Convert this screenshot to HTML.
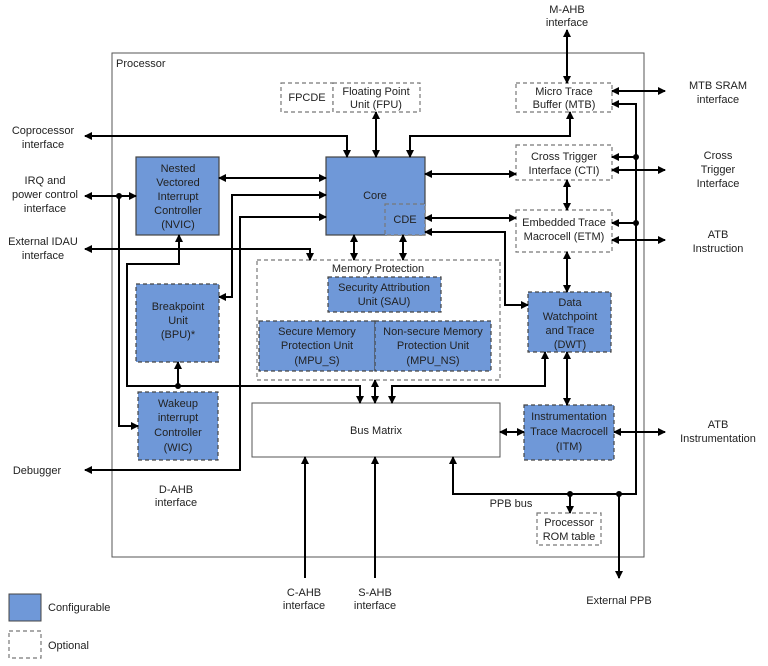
<!DOCTYPE html>
<html><head><meta charset="utf-8"><style>
html,body{margin:0;padding:0;background:#fff}
svg{display:block;font-family:"Liberation Sans",Arial,sans-serif;font-size:11px;fill:#222}
.b{fill:#6f98d8;stroke:#444;stroke-width:1.2}
.bd{fill:#6f98d8;stroke:#444;stroke-width:1.2;stroke-dasharray:4,3}
.d{fill:#fff;stroke:#777;stroke-width:1.2;stroke-dasharray:4,3}
.l{fill:none;stroke:#000;stroke-width:2}
text{text-anchor:middle}
</style></head><body>
<svg width="768" height="666" viewBox="0 0 768 666" xmlns="http://www.w3.org/2000/svg">
<defs>
<marker id="a" markerWidth="8" markerHeight="8" refX="7" refY="4" orient="auto-start-reverse" markerUnits="userSpaceOnUse"><path d="M0,0 L8,4 L0,8 z" fill="#000"/></marker>
</defs>
<rect x="112" y="53" width="532" height="504" fill="none" stroke="#555" stroke-width="1"/>
<text x="116" y="67" style="text-anchor:start">Processor</text>

<!-- boxes -->
<rect class="d" x="281" y="83" width="52" height="29"/><text x="307" y="101">FPCDE</text>
<rect class="d" x="333" y="83" width="87" height="29"/><text x="376" y="95">Floating Point</text><text x="376" y="108">Unit (FPU)</text>
<rect class="b" x="136" y="157" width="83" height="78"/>
<text x="178" y="172">Nested</text><text x="178" y="186">Vectored</text><text x="178" y="200">Interrupt</text><text x="178" y="214">Controller</text><text x="178" y="228">(NVIC)</text>
<rect class="b" x="326" y="157" width="99" height="78"/><text x="375" y="199">Core</text>
<rect class="d" x="385" y="204" width="40" height="31" style="fill:#6f98d8"/><text x="405" y="223">CDE</text>
<rect class="d" x="257" y="260" width="243" height="120"/><text x="378" y="272">Memory Protection</text>
<rect class="bd" x="328" y="277" width="113" height="35"/><text x="384" y="291">Security Attribution</text><text x="384" y="305">Unit (SAU)</text>
<rect class="bd" x="259" y="321" width="116" height="50"/><text x="317" y="335">Secure Memory</text><text x="317" y="349">Protection Unit</text><text x="317" y="364">(MPU_S)</text>
<rect class="bd" x="375" y="321" width="116" height="50"/><text x="433" y="335">Non-secure Memory</text><text x="433" y="349">Protection Unit</text><text x="433" y="364">(MPU_NS)</text>
<rect class="bd" x="136" y="284" width="83" height="78"/><text x="178" y="310">Breakpoint</text><text x="178" y="324">Unit</text><text x="178" y="338">(BPU)*</text>
<rect class="bd" x="138" y="392" width="80" height="68"/><text x="178" y="407">Wakeup</text><text x="178" y="421">interrupt</text><text x="178" y="436">Controller</text><text x="178" y="451">(WIC)</text>
<rect x="252" y="403" width="248" height="54" fill="#fff" stroke="#555" stroke-width="1"/><text x="376" y="434">Bus Matrix</text>
<rect class="d" x="516" y="83" width="96" height="29"/><text x="564" y="95">Micro Trace</text><text x="564" y="108">Buffer (MTB)</text>
<rect class="d" x="516" y="145" width="96" height="35"/><text x="564" y="160">Cross Trigger</text><text x="564" y="174">Interface (CTI)</text>
<rect class="d" x="516" y="210" width="96" height="42"/><text x="564" y="226">Embedded Trace</text><text x="564" y="240">Macrocell (ETM)</text>
<rect class="bd" x="528" y="292" width="83" height="60"/><text x="570" y="306">Data</text><text x="570" y="320">Watchpoint</text><text x="570" y="334">and Trace</text><text x="570" y="348">(DWT)</text>
<rect class="bd" x="524" y="405" width="90" height="55"/><text x="569" y="420">Instrumentation</text><text x="569" y="435">Trace Macrocell</text><text x="569" y="450">(ITM)</text>
<rect class="d" x="537" y="513" width="64" height="32"/><text x="569" y="526">Processor</text><text x="569" y="540">ROM table</text>

<!-- connectors -->
<g class="l">
<line x1="567" y1="30" x2="567" y2="83" marker-start="url(#a)" marker-end="url(#a)"/>
<line x1="612" y1="91" x2="665" y2="91" marker-start="url(#a)" marker-end="url(#a)"/>
<polyline points="612,104 636,104 636,494 453,494 453,457" marker-start="url(#a)" marker-end="url(#a)"/>
<line x1="636" y1="157" x2="612" y2="157" marker-end="url(#a)"/>
<line x1="636" y1="223" x2="612" y2="223" marker-end="url(#a)"/>
<line x1="612" y1="170" x2="665" y2="170" marker-start="url(#a)" marker-end="url(#a)"/>
<line x1="612" y1="240" x2="665" y2="240" marker-start="url(#a)" marker-end="url(#a)"/>
<line x1="614" y1="432" x2="665" y2="432" marker-start="url(#a)" marker-end="url(#a)"/>
<line x1="570" y1="494" x2="570" y2="513" marker-end="url(#a)"/>
<line x1="619" y1="494" x2="619" y2="578" marker-end="url(#a)"/>
<line x1="425" y1="174" x2="516" y2="174" marker-start="url(#a)" marker-end="url(#a)"/>
<line x1="425" y1="218" x2="516" y2="218" marker-start="url(#a)" marker-end="url(#a)"/>
<polyline points="425,232 505,232 505,305 528,305" marker-start="url(#a)" marker-end="url(#a)"/>
<line x1="567" y1="180" x2="567" y2="210" marker-start="url(#a)" marker-end="url(#a)"/>
<line x1="567" y1="252" x2="567" y2="292" marker-start="url(#a)" marker-end="url(#a)"/>
<line x1="567" y1="352" x2="567" y2="405" marker-start="url(#a)" marker-end="url(#a)"/>
<line x1="500" y1="432" x2="524" y2="432" marker-start="url(#a)" marker-end="url(#a)"/>
<polyline points="570,112 570,136 410,136 410,157" marker-start="url(#a)" marker-end="url(#a)"/>
<line x1="376" y1="112" x2="376" y2="157" marker-start="url(#a)" marker-end="url(#a)"/>
<polyline points="85,136 347,136 347,157" marker-start="url(#a)" marker-end="url(#a)"/>
<polyline points="85,196 136,196" marker-start="url(#a)" marker-end="url(#a)"/>
<polyline points="119,196 119,426 138,426" marker-end="url(#a)"/>
<line x1="219" y1="178" x2="326" y2="178" marker-start="url(#a)" marker-end="url(#a)"/>
<polyline points="219,297 232,297 232,195 326,195" marker-start="url(#a)" marker-end="url(#a)"/>
<polyline points="85,470 240,470 240,217 326,217" marker-start="url(#a)" marker-end="url(#a)"/>
<polyline points="85,249 310,249 310,260" marker-start="url(#a)" marker-end="url(#a)"/>
<polyline points="179,235 179,264 127,264 127,386 360,386 360,403" marker-start="url(#a)" marker-end="url(#a)"/>
<line x1="178" y1="386" x2="178" y2="362" marker-end="url(#a)"/>
<line x1="354" y1="235" x2="354" y2="260" marker-start="url(#a)" marker-end="url(#a)"/>
<line x1="403" y1="235" x2="403" y2="260" marker-start="url(#a)" marker-end="url(#a)"/>
<line x1="375" y1="380" x2="375" y2="403" marker-start="url(#a)" marker-end="url(#a)"/>
<polyline points="545,352 545,386 392,386 392,403" marker-start="url(#a)" marker-end="url(#a)"/>
<line x1="305" y1="578" x2="305" y2="457" marker-end="url(#a)"/>
<line x1="375" y1="578" x2="375" y2="457" marker-end="url(#a)"/>
</g>
<g fill="#000">
<circle cx="636" cy="157" r="3"/><circle cx="636" cy="223" r="3"/><circle cx="119" cy="196" r="3"/>
<circle cx="178" cy="386" r="3"/><circle cx="570" cy="494" r="3"/><circle cx="619" cy="494" r="3"/>
</g>

<!-- external labels -->
<text x="567" y="13">M-AHB</text><text x="567" y="26">interface</text>
<text x="718" y="89">MTB SRAM</text><text x="718" y="103">interface</text>
<text x="718" y="159">Cross</text><text x="718" y="173">Trigger</text><text x="718" y="187">Interface</text>
<text x="718" y="238">ATB</text><text x="718" y="252">Instruction</text>
<text x="718" y="428">ATB</text><text x="718" y="442">Instrumentation</text>
<text x="43" y="134">Coprocessor</text><text x="43" y="148">interface</text>
<text x="45" y="184">IRQ and</text><text x="45" y="198">power control</text><text x="45" y="212">interface</text>
<text x="43" y="245">External IDAU</text><text x="43" y="259">interface</text>
<text x="37" y="474">Debugger</text>
<text x="176" y="493">D-AHB</text><text x="176" y="506">interface</text>
<text x="511" y="507">PPB bus</text>
<text x="304" y="596">C-AHB</text><text x="304" y="609">interface</text>
<text x="375" y="596">S-AHB</text><text x="375" y="609">interface</text>
<text x="619" y="604">External PPB</text>

<!-- legend -->
<rect x="9" y="594" width="32" height="27" fill="#6f98d8" stroke="#444"/>
<text x="48" y="611" style="text-anchor:start">Configurable</text>
<rect class="d" x="9" y="631" width="32" height="27"/>
<text x="48" y="649" style="text-anchor:start">Optional</text>
</svg>
</body></html>
